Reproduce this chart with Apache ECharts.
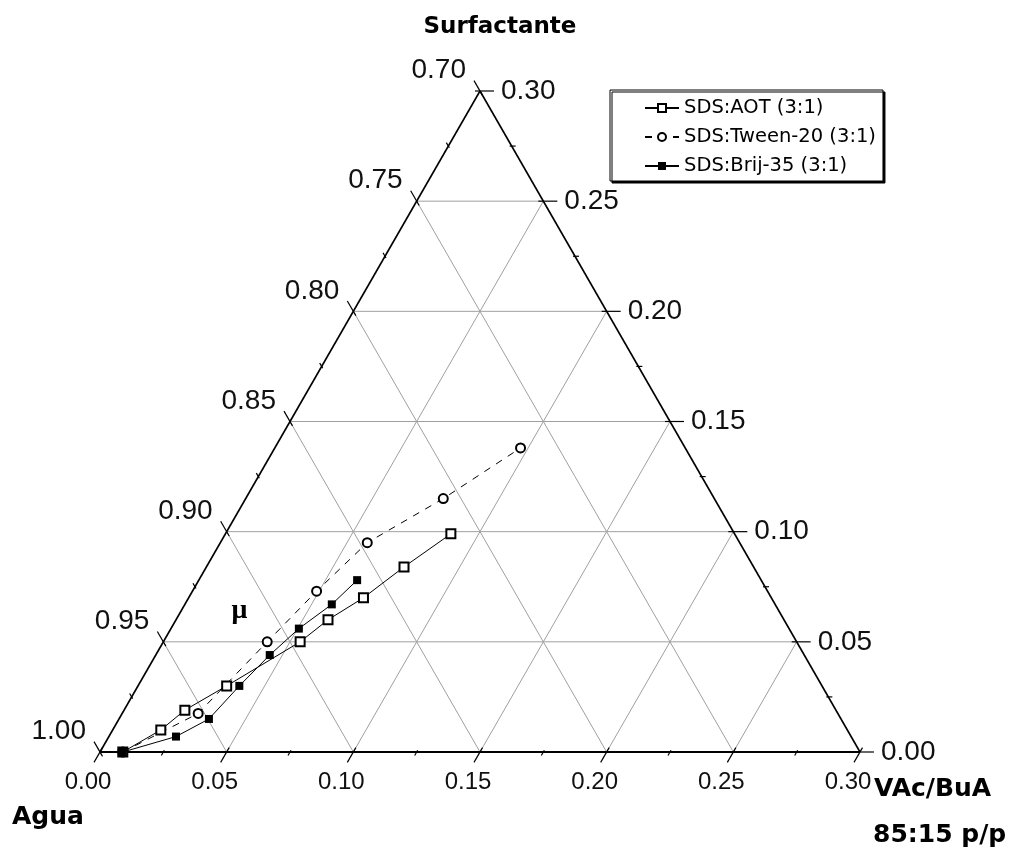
<!DOCTYPE html>
<html>
<head>
<meta charset="utf-8">
<script src="https://cdn.jsdelivr.net/npm/echarts@6/dist/echarts.min.js"></script>
<style>html,body{margin:0;padding:0;background:#fff}#c{width:1011px;height:850px}</style>
</head>
<body>
<div id="c"></div>
<script>
// ---- data (mass fractions; Agua = 1 - VAc/BuA - Surfactante) ----
const seriesNames = ['SDS:AOT (3:1)', 'SDS:Tween-20 (3:1)', 'SDS:Brij-35 (3:1)'];
const aotVac    = [0.009, 0.019, 0.024, 0.035, 0.054, 0.060, 0.069, 0.078, 0.089];
const aotSurf   = [0.000, 0.010, 0.019, 0.030, 0.050, 0.060, 0.070, 0.084, 0.099];
const tweenVac  = [0.009, 0.030, 0.041, 0.049, 0.058, 0.078, 0.097];
const tweenSurf = [0.000, 0.0175, 0.050, 0.073, 0.095, 0.115, 0.138];
const brijVac   = [0.009, 0.0265, 0.0355, 0.040, 0.045, 0.0505, 0.058, 0.0625];
const brijSurf  = [0.000, 0.007, 0.015, 0.030, 0.044, 0.056, 0.067, 0.078];

// ---- axis tick labels ----
const aguaTicks = ['0.70', '0.75', '0.80', '0.85', '0.90', '0.95', '1.00'];
const surfTicks = ['0.00', '0.05', '0.10', '0.15', '0.20', '0.25', '0.30'];
const vacTicks  = ['0.00', '0.05', '0.10', '0.15', '0.20', '0.25', '0.30'];
const titleTop = 'Surfactante';
const titleLeft = 'Agua';
const titleRight = ['VAc/BuA', '85:15 p/p'];
const annotation = { text: 'μ', vac: 0.023, surf: 0.064 };
const RANGE = 0.30;

// ternary -> cartesian (x = VAc + Surf/2, y = Surf)
function toXY(v, s) { return [v + s / 2, s]; }

// grid + edge segments built from tick values
const segs = [];
const surfVals = surfTicks.map(Number), vacVals = vacTicks.map(Number), aguaVals = aguaTicks.map(Number);
surfVals.forEach(s => { if (s > 0 && s < RANGE) segs.push([...toXY(0, s), ...toXY(RANGE - s, s), 0]); });
vacVals.forEach(v => { if (v > 0 && v < RANGE) segs.push([...toXY(v, 0), ...toXY(v, RANGE - v), 0]); });
aguaVals.forEach(a => { const t = +(1 - a).toFixed(4); if (t > 0 && t < RANGE) segs.push([...toXY(0, t), ...toXY(t, 0), 0]); });
segs.push([...toXY(0, 0), ...toXY(RANGE, 0), 2]);
segs.push([...toXY(0, 0), ...toXY(0, RANGE), 1]);
segs.push([...toXY(RANGE, 0), ...toXY(0, RANGE), 1]);

// ticks: [x, y, axis(0 left,1 right,2 bottom), major, labelIndex]
const ticks = [];
function addTicks(vals, axis, ptFn) {
  vals.forEach((val, i) => {
    ticks.push([...ptFn(val), axis, 1, i]);
    if (i < vals.length - 1) ticks.push([...ptFn((val + vals[i + 1]) / 2), axis, 0, -1]);
  });
}
addTicks(aguaVals, 0, a => toXY(0, 1 - a));
addTicks(surfVals, 1, s => toXY(RANGE - s, s));
addTicks(vacVals, 2, v => toXY(v, 0));

const dirs = [[-0.5, -0.866], [1, 0], [-0.5, 0.866]];
const tickLabelSets = [aguaTicks, surfTicks, vacTicks];

function renderSeg(params, api) {
  const p1 = api.coord([api.value(0), api.value(1)]);
  const p2 = api.coord([api.value(2), api.value(3)]);
  const kind = api.value(4);
  return {
    type: 'line',
    shape: { x1: p1[0], y1: p1[1], x2: p2[0], y2: p2[1] },
    style: { stroke: kind ? '#000' : '#a0a0a0', lineWidth: kind === 2 ? 2 : (kind ? 1.6 : 1) }
  };
}

function renderTick(params, api) {
  const p = api.coord([api.value(0), api.value(1)]);
  const ax = api.value(2), major = api.value(3), li = api.value(4);
  const d = dirs[ax];
  const outL = major ? (ax === 1 ? 14 : 12) : 4;
  const inL = major ? 5 : 2;
  const children = [{
    type: 'line',
    shape: { x1: p[0] - d[0] * inL, y1: p[1] - d[1] * inL, x2: p[0] + d[0] * outL, y2: p[1] + d[1] * outL },
    style: { stroke: '#000', lineWidth: 1.2 }
  }];
  if (major) {
    const ex = p[0] + d[0] * outL, ey = p[1] + d[1] * outL;
    let tx, ty, align, fs = 28;
    if (ax === 0) { tx = ex - 8; ty = ey - 10; align = 'right'; }
    else if (ax === 1) { tx = ex + 7; ty = ey; align = 'left'; }
    else { tx = ex - 6; ty = ey + 20; align = 'center'; fs = 24; }
    children.push({
      type: 'text',
      style: { text: tickLabelSets[ax][li], x: tx, y: ty, align: align, verticalAlign: 'middle',
               fontFamily: 'Liberation Sans', fontSize: fs, fill: '#111' }
    });
  }
  return { type: 'group', children: children };
}

function renderNote(params, api) {
  const p = api.coord([api.value(0), api.value(1)]);
  return { type: 'text', style: { text: annotation.text, x: p[0], y: p[1], align: 'center', verticalAlign: 'middle',
           fontFamily: 'Liberation Serif', fontWeight: 'bold', fontSize: 28, fill: '#000' } };
}

const mk = (vs, ss) => vs.map((v, i) => toXY(v, ss[i]));

const chart = echarts.init(document.getElementById('c'));
chart.setOption({
  animation: false,
  backgroundColor: '#fff',
  grid: { left: 100, right: 151, top: 91, bottom: 98 },
  xAxis: { type: 'value', min: 0, max: RANGE, show: false },
  yAxis: { type: 'value', min: 0, max: RANGE, show: false },
  legend: {
    data: seriesNames,
    orient: 'vertical',
    left: 610, top: 90,
    padding: [8, 7, 5, 34],
    itemWidth: 34, itemHeight: 10, itemGap: 9,
    textStyle: { fontFamily: 'DejaVu Sans', fontSize: 19.5, color: '#000', lineHeight: 20 },
    borderColor: '#000', borderWidth: 1, backgroundColor: '#fff',
    shadowColor: '#000', shadowOffsetX: 2, shadowOffsetY: 2, shadowBlur: 0,
    selectedMode: false
  },
  graphic: [
    { type: 'text', x: 500, y: 27, style: { text: titleTop, align: 'center', verticalAlign: 'middle', fontFamily: 'DejaVu Sans', fontWeight: 'bold', fontSize: 23, fill: '#000' } },
    { type: 'text', x: 12, y: 817, style: { text: titleLeft, align: 'left', verticalAlign: 'middle', fontFamily: 'DejaVu Sans', fontWeight: 'bold', fontSize: 25, fill: '#000' } },
    { type: 'text', x: 874, y: 789, style: { text: titleRight[0], align: 'left', verticalAlign: 'middle', fontFamily: 'DejaVu Sans', fontWeight: 'bold', fontSize: 25, fill: '#000' } },
    { type: 'text', x: 873, y: 835, style: { text: titleRight[1], align: 'left', verticalAlign: 'middle', fontFamily: 'DejaVu Sans', fontWeight: 'bold', fontSize: 25, fill: '#000' } }
  ],
  series: [
    { type: 'custom', name: 'grid', data: segs, encode: { x: [0, 2], y: [1, 3] }, renderItem: renderSeg, z: 1, silent: true },
    { type: 'custom', name: 'ticks', data: ticks, encode: { x: 0, y: 1 }, renderItem: renderTick, z: 2, silent: true },
    { type: 'custom', name: 'note', data: [toXY(annotation.vac, annotation.surf)], encode: { x: 0, y: 1 }, renderItem: renderNote, z: 2, silent: true },
    { type: 'line', name: seriesNames[0], data: mk(aotVac, aotSurf), symbol: 'emptyRect', symbolSize: 9,
      color: '#000', lineStyle: { color: '#000', width: 1 }, itemStyle: { color: '#000', borderWidth: 1 }, clip: false, z: 5 },
    { type: 'line', name: seriesNames[1], data: mk(tweenVac, tweenSurf), symbol: 'emptyCircle', symbolSize: 9,
      color: '#000', lineStyle: { color: '#000', width: 1, type: [7, 7] }, itemStyle: { color: '#000', borderWidth: 1 }, clip: false, z: 4 },
    { type: 'line', name: seriesNames[2], data: mk(brijVac, brijSurf), symbol: 'rect', symbolSize: 8,
      color: '#000', lineStyle: { color: '#000', width: 1 }, itemStyle: { color: '#000' }, clip: false, z: 6 }
  ]
});
</script>
</body>
</html>
